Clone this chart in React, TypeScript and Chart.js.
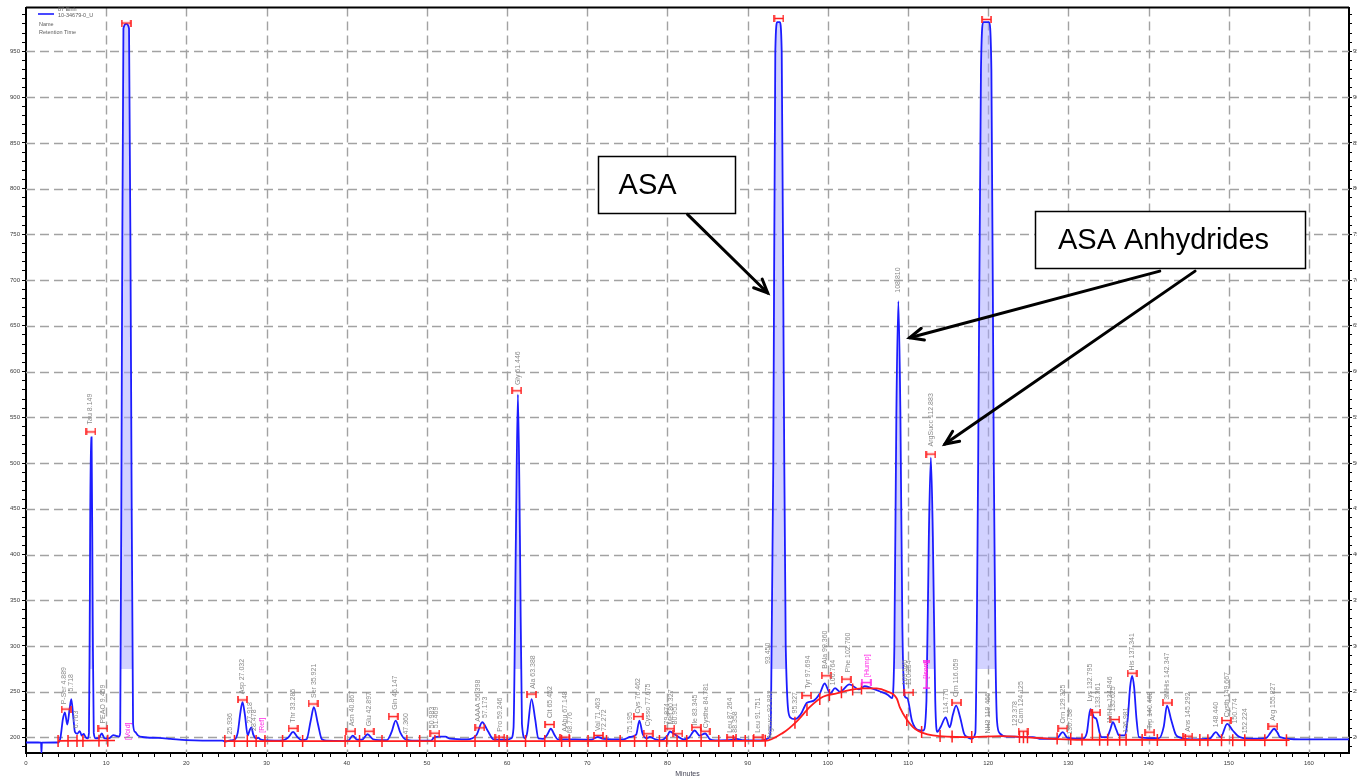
import React, { useEffect, useRef } from "react";
import { Chart, registerables } from "chart.js";

Chart.register(...registerables);

// ---- Chromatogram trace (time in minutes, detector signal) ----
const TRACE_TIME = [
  0, 1.5, 1.88, 1.93, 1.98, 4.0, 4.3, 4.6, 4.85, 5.15, 5.45, 5.65, 5.9, 6.1, 6.4, 6.7, 6.95, 7.2, 7.45, 7.7,
  7.85, 7.95, 8.08, 8.18, 8.32, 8.45, 8.7, 9.1, 9.45, 9.8, 10.3, 10.9, 11.3, 11.6, 11.75, 11.95, 12.15, 12.5, 12.85, 13.1,
  13.35, 13.6, 14.0, 14.5, 16.5, 18.0, 20.0, 22.0, 24.5, 24.9, 25.5, 26.0, 26.4, 26.75, 27.0, 27.3, 27.65, 27.9, 28.1, 28.35,
  28.7, 29.0, 29.3, 31.0, 32.0, 32.7, 33.3, 33.9, 34.4, 35.0, 35.5, 35.9, 36.4, 36.9, 37.5, 39.5, 40.2, 40.75, 41.3, 41.9,
  42.6, 43.3, 45.0, 45.6, 46.1, 46.7, 47.3, 48.5, 50.5, 50.9, 51.5, 52.3, 52.9, 55.0, 56.2, 56.9, 57.6, 58.3, 60.0, 60.5,
  60.8, 61.1, 61.35, 61.6, 61.85, 62.25, 62.5, 63.05, 63.5, 63.9, 64.5, 65.0, 65.45, 65.9, 66.3, 67.0, 68.5, 70.5, 71.3, 72.0,
  74.5, 75.3, 76.1, 76.5, 76.9, 77.4, 77.8, 78.5, 79.2, 80.0, 80.3, 80.8, 81.3, 82.0, 82.7, 83.4, 84.0, 84.7, 85.3, 86.0,
  88.0, 88.6, 89.5, 91.0, 92.0, 92.7, 92.9, 93.2, 93.45, 93.7, 94.0, 94.25, 94.5, 94.75, 95.3, 95.9, 96.6, 97.4, 98.2, 99.0,
  99.6, 100.3, 100.9, 101.5, 102.7, 103.9, 104.6, 105.4, 106.6, 107.5, 108.0, 108.3, 108.55, 108.8, 109.05, 109.3, 109.6, 109.9, 110.5, 111.3,
  111.9, 112.3, 112.6, 112.85, 113.1, 113.4, 113.65, 114.1, 114.7, 115.2, 115.6, 116.0, 116.5, 117.0, 117.3, 117.9, 118.4, 118.75, 119.1, 119.4,
  120.1, 120.4, 120.7, 120.9, 121.1, 121.45, 122.3, 123.3, 124.4, 125.6, 126.4, 128.5, 129.3, 129.9, 131.8, 132.3, 132.75, 133.2, 133.5, 133.9,
  134.1, 134.8, 135.2, 135.55, 136.0, 136.3, 137.0, 137.4, 137.7, 137.95, 138.2, 138.5, 138.8, 140.5, 141.3, 141.9, 142.3, 142.8, 143.4, 143.8,
  145.3, 147.6, 148.4, 149.0, 149.8, 150.5, 151.4, 153.0, 154.7, 155.2, 155.65, 156.1, 156.4, 158.9, 165.0,
];
const TRACE_SIGNAL = [
  194.5, 194.5, 194.4, 183, 194.4, 194.5, 200, 220, 227.5, 214, 232, 242, 222, 206, 204, 207, 202, 204, 200, 199,
  205, 330, 528, 528, 330, 205, 199, 199.5, 204.5, 199, 199, 202.5, 201.5, 201, 205, 600, 975, 980, 975, 600,
  215, 206, 202, 200.5, 199.5, 198.5, 197, 196.5, 196.5, 195.5, 196.8, 197.5, 205, 228, 238.5, 225, 202, 208, 211, 203,
  199, 199.5, 197.5, 196.5, 196.8, 200, 206, 200, 197, 198, 218, 233, 215, 198, 196.5, 196, 196.5, 202, 197.5, 197.5,
  203.5, 198, 197, 206, 218.5, 205, 198, 196.5, 196.5, 200, 201, 200.8, 198.6, 197.8, 203, 216.6, 207, 198, 197.5, 199,
  210, 420, 575, 420, 215, 199, 205, 242, 220, 199, 198.5, 203, 209.5, 203, 198, 197.8, 197.8, 197.5, 200.5, 198.5,
  197.8, 200.5, 203, 218.5, 204, 199, 200.5, 198, 197, 202, 206.5, 204, 201, 197.8, 200, 207.6, 202, 204.3, 198, 196.7,
  197.2, 198.5, 197, 196.7, 197, 200, 215, 500, 950, 982, 982, 950, 600, 300, 222, 220, 225, 238, 240, 248,
  259, 248, 254, 250, 258, 252.5, 256, 254, 250, 246.5, 243, 300, 555, 677, 555, 320, 245, 243, 218, 208,
  207.6, 240, 420, 506, 420, 240, 206, 212, 222, 211, 225, 234.8, 222, 204, 201, 198.5, 205, 500, 930, 982,
  982, 930, 500, 300, 218, 204.5, 201, 201, 200.3, 200.3, 198.6, 198.6, 205.8, 199.5, 198.6, 205, 231, 222, 220, 205,
  200.3, 200.3, 208, 216.6, 208, 202.2, 202.2, 220, 255, 267.4, 255, 220, 200.3, 199.2, 199.2, 212, 234.8, 220, 203, 200.3,
  197.8, 198.6, 205.8, 200.3, 214.9, 207.6, 200.3, 198.6, 199.6, 205, 209.5, 205, 200.3, 197.8, 197.8,
];

// ---- Integration baseline (red), null = gap ----
const BASE_TIME = [4.0, 11.1, 11.2, 24.8, 60.0, 92.2, 94.4, 96.1, 97.8, 99.4, 101.1, 102.7, 104.3, 106.1, 107.3, 108.6, 109.0, 109.8, 110.9, 113.1, 117.3, 121.5, 126.0, 131.0, 157.6];
const BASE_SIGNAL = [196.2, 196.8, null, 196.0, 196.0, 196.3, 205, 217.4, 233.7, 244.5, 248.2, 251.8, 253.6, 253.6, 250.7, 242.6, 232.5, 220.2, 209.2, 202.2, 200.3, 201.5, 199.5, 197.5, 197.0];

// ---- Peak start/end ticks on the baseline ----
const TICK_TIME = [4.0, 5.24, 6.36, 7.1, 9.1, 10.2, 24.8, 26.0, 27.6, 28.7, 29.8, 32.0, 34.5, 39.8, 41.6, 44.4, 47.5, 49.1, 51.0, 56.0, 59.0, 60.0, 62.3, 64.7, 66.8, 67.8, 70.1, 72.4, 74.1, 75.9, 77.4, 79.0, 79.9, 81.2, 82.4, 84.2, 86.4, 88.2, 89.7, 90.7, 92.2, 95.9, 97.4, 99.0, 100.2, 101.7, 103.1, 104.2, 109.85, 111.7, 114.0, 115.5, 117.95, 123.9, 124.4, 124.9, 128.6, 130.3, 131.7, 133.9, 134.9, 136.4, 137.2, 139.2, 141.1, 144.6, 146.4, 147.4, 149.1, 150.5, 152.0, 154.5, 157.2];
const TICK_SIGNAL = [196, 196, 196.2, 196.2, 196.4, 196.5, 196, 196, 196, 196, 196, 196, 196, 196, 196, 196, 196, 196, 196, 196, 196, 196, 196, 196, 196, 196, 196, 196, 196, 196, 196, 196, 196, 196, 196, 196, 196, 196, 196, 196, 196.3, 216, 230, 242, 246.5, 249.5, 252.5, 253.5, 219, 206, 201.7, 201, 200.5, 200.5, 200.3, 200.2, 198.8, 198.2, 197.8, 197.5, 197.5, 197.4, 197.4, 197.3, 197.2, 197.1, 197.1, 197, 197, 197, 197, 197, 197];

// ---- Drop line ----
const DROP_TIME = [133.0, 133.0];
const DROP_SIGNAL = [197.6, 231];

// ---- Peak apex markers (red) ----
const MARK_TIME = [5.0, 8.1, 9.6, 12.5, 27.0, 33.3, 35.8, 40.5, 42.8, 45.8, 51.0, 56.6, 59.1, 61.2, 63.05, 65.3, 67.2, 71.4, 76.35, 77.6, 80.3, 81.3, 83.6, 84.7, 88.0, 91.3, 93.9, 97.35, 99.8, 102.3, 110.1, 112.85, 116.05, 119.8, 124.35, 129.3, 133.4, 135.8, 137.95, 140.15, 142.35, 144.9, 149.7, 155.5];
const MARK_SIGNAL = [231, 534, 210, 981, 241, 210, 236.6, 206.8, 206.8, 222.8, 204.7, 210.5, 200.3, 579, 247.5, 214.1, 200.3, 202.2, 222.8, 204, 209.5, 204, 211.2, 206.8, 200.3, 200.3, 986, 245.7, 267.4, 263.8, 249, 509.8, 237.7, 985, 206.8, 210, 227.5, 219.6, 270.3, 205.8, 237.7, 201.4, 218.5, 212.3];

// ---- Magenta markers ----
const MAG_MARK_TIME = [104.8];
const MAG_MARK_SIGNAL = [260];
const MAG_VMARK_TIME = [112.3];
const MAG_VMARK_SIGNAL = [268];

// ---- Peak labels (rotated) ----
const LABEL_TEXT = [
  "P-Ser 4.889", "5.718", "6.763", "Tau 8.149", "PEAO 9.459", "25.936", "Asp 27.032", "27.918", "28.478", "Thr 33.285",
  "Ser 35.921", "Asn 40.867", "Glu 42.897", "Gln 46.147", "47.360", "50.983", "51.469", "AAAA 56.398", "57.173", "Pro 59.246",
  "Gly 61.446", "Ala 63.388", "Cit 65.452", "AAbu 67.148", "68.776", "Val 71.463", "72.272", "75.195", "Cys 76.462", "Cysso 77.675",
  "79.874", "Met 80.327", "80.951", "Ile 83.345", "Cysthe 84.781", "Leu 87.264", "88.358", "Leu 91.751", "93.450", "Argsucc 93.882",
  "95.327", "Tyr 97.694", "BAla 99.360", "100.764", "Phe 102.760", "108.810", "109.586", "110.254", "ArgSucc 112.883", "114.770",
  "Orn 116.059", "NH3 119.466", "123.378", "Carn 124.125", "Orn 129.325", "130.758", "Lys 132.795", "133.361", "1MHis 134.946", "135.625",
  "136.981", "His 137.341", "Trp 140.468", "3MHis 142.347", "Ans 145.292", "148.440", "Cysth 149.667", "150.774", "152.224", "Arg 155.827",
];
const LABEL_TIME = [
  4.75, 5.6, 6.3, 8.05, 9.6, 25.4, 26.97, 27.9, 28.4, 33.3,
  35.9, 40.7, 42.8, 46.0, 47.4, 50.7, 51.2, 56.4, 57.2, 59.1,
  61.4, 63.25, 65.3, 67.2, 67.9, 71.3, 72.1, 75.3, 76.35, 77.6,
  79.9, 80.4, 80.9, 83.4, 84.8, 87.8, 88.4, 91.3, 92.6, 92.85,
  95.9, 97.5, 99.6, 100.7, 102.5, 108.8, 109.6, 110.15, 112.85, 114.7,
  116.05, 120.0, 123.3, 124.15, 129.35, 130.2, 132.75, 133.7, 135.2, 135.6,
  137.15, 137.95, 140.15, 142.35, 144.9, 148.4, 149.85, 150.75, 152.0, 155.5,
];
const LABEL_SIGNAL = [
  234, 248, 208, 540, 213, 201, 245, 213, 205, 214,
  241, 210, 210, 228, 201, 208, 208, 215, 219, 204,
  583, 251, 219, 204, 202, 205, 205, 202, 224, 210,
  212, 212, 212, 211, 208, 203, 203, 203, 278, 196,
  224, 251, 273, 255, 269, 684, 255, 255, 516, 224,
  242, 202, 210, 213, 213, 201, 237, 230, 213, 226,
  203, 271, 207, 239, 204, 209, 220, 213, 202, 216,
];
const MAG_LABEL_TEXT = ["[Void]", "[Ref]", "[Hump]", "[Isom]"];
const MAG_LABEL_TIME = [12.75, 29.4, 104.9, 112.3];
const MAG_LABEL_SIGNAL = [195, 203, 264, 262];

// ---- Annotations (data units) ----
const BOX_TEXT = ["ASA", "ASA Anhydrides"];
const BOX_T0 = [71.3, 125.8];
const BOX_T1 = [88.4, 159.5];
const BOX_V0 = [772.8, 713];
const BOX_V1 = [835.9, 775];
const BOX_TEXT_T = [73.9, 128.7];
const ARROW_FROM_T = [82.5, 141.4, 145.8];
const ARROW_FROM_V = [771.8, 709.8, 709.8];
const ARROW_TO_T = [92.5, 110.2, 114.6];
const ARROW_TO_V = [685.9, 637, 520.7];

const X_MIN = 0, X_MAX = 165, Y_MIN = 183, Y_MAX = 998;
const TINT_LEVEL = 275; // peak interiors above this signal are tinted
const BLUE = "rgb(28,28,255)";
const RED = "rgb(255,30,30)";
const MAGENTA = "rgb(255,40,230)";
const LABEL_FONT = '7px "Liberation Sans", Arial, sans-serif';
const TRACE_INDEX = 6;

function pts(t: number[], v: (number | null)[]) {
  return t.map((x, i) => ({ x, y: v[i] }));
}

function makeH(color: string, w: number, h: number, vertical: boolean) {
  const c = document.createElement("canvas");
  c.width = vertical ? h : w;
  c.height = vertical ? w : h;
  const g = c.getContext("2d")!;
  g.strokeStyle = color;
  g.lineWidth = 1.6;
  g.beginPath();
  if (!vertical) {
    g.moveTo(1, h / 2); g.lineTo(w - 1, h / 2);
    g.moveTo(1, 0); g.lineTo(1, h);
    g.moveTo(w - 1, 0); g.lineTo(w - 1, h);
  } else {
    g.moveTo(h / 2, 1); g.lineTo(h / 2, w - 1);
    g.moveTo(0, 1); g.lineTo(h, 1);
    g.moveTo(0, w - 1); g.lineTo(h, w - 1);
  }
  g.stroke();
  return c;
}

const overlay = {
  id: "overlay",
  beforeDatasetsDraw(chart: any) {
    const { ctx, chartArea: a, scales } = chart;
    const x = scales.x, y = scales.y;
    ctx.save();
    ctx.strokeStyle = "#a2a2a2";
    ctx.lineWidth = 1.4;
    ctx.setLineDash([9, 5]);
    x.ticks.forEach((tk: any) => {
      if (tk.value % 10 === 0 && tk.value > X_MIN) {
        const px = Math.round(x.getPixelForValue(tk.value)) + 0.5;
        ctx.beginPath(); ctx.moveTo(px, a.top); ctx.lineTo(px, a.bottom); ctx.stroke();
      }
    });
    y.ticks.forEach((tk: any) => {
      if (Math.round(tk.value) % 50 === 0) {
        const py = Math.round(y.getPixelForValue(tk.value)) + 0.5;
        ctx.beginPath(); ctx.moveTo(a.left, py); ctx.lineTo(a.right, py); ctx.stroke();
      }
    });
    ctx.restore();

    // pale tint inside the tall peaks
    const meta = chart.getDatasetMeta(TRACE_INDEX);
    const line = meta && meta.dataset;
    if (line && line.points && line.points.length) {
      line.updateControlPoints(a, "x");
      const clipY = Math.round(y.getPixelForValue(TINT_LEVEL));
      const p = line.points;
      ctx.save();
      ctx.beginPath();
      ctx.rect(a.left, a.top, a.right - a.left, clipY - a.top);
      ctx.clip();
      ctx.beginPath();
      line.path(ctx);
      ctx.lineTo(p[p.length - 1].x, a.bottom + 5);
      ctx.lineTo(p[0].x, a.bottom + 5);
      ctx.closePath();
      ctx.fillStyle = "rgba(165,165,255,0.5)";
      ctx.fill();
      ctx.restore();
    }
  },
  afterDatasetsDraw(chart: any) {
    const { ctx, chartArea: a, scales } = chart;
    const x = scales.x, y = scales.y;
    ctx.save();
    ctx.font = LABEL_FONT;
    ctx.textAlign = "left";
    ctx.textBaseline = "middle";
    const drawLabels = (texts: string[], ts: number[], vs: number[], color: string) => {
      ctx.fillStyle = color;
      texts.forEach((s, i) => {
        const px = x.getPixelForValue(ts[i]);
        const py = y.getPixelForValue(vs[i]);
        ctx.save();
        ctx.translate(px, py - 2);
        ctx.rotate(-Math.PI / 2);
        ctx.fillText(s, 0, 0);
        ctx.restore();
      });
    };
    drawLabels(LABEL_TEXT, LABEL_TIME, LABEL_SIGNAL, "#8a8a8a");
    drawLabels(MAG_LABEL_TEXT, MAG_LABEL_TIME, MAG_LABEL_SIGNAL, MAGENTA);

    // annotation boxes
    ctx.strokeStyle = "#000";
    ctx.lineWidth = 1.5;
    ctx.font = '29px "Liberation Sans", Arial, sans-serif';
    ctx.textBaseline = "middle";
    BOX_TEXT.forEach((s, i) => {
      const x0 = Math.round(x.getPixelForValue(BOX_T0[i])) + 0.5;
      const x1 = Math.round(x.getPixelForValue(BOX_T1[i])) + 0.5;
      const y0 = Math.round(y.getPixelForValue(BOX_V1[i])) + 0.5;
      const y1 = Math.round(y.getPixelForValue(BOX_V0[i])) + 0.5;
      ctx.fillStyle = "#fff";
      ctx.fillRect(x0, y0, x1 - x0, y1 - y0);
      ctx.strokeRect(x0, y0, x1 - x0, y1 - y0);
      ctx.fillStyle = "#000";
      ctx.fillText(s, x.getPixelForValue(BOX_TEXT_T[i]), (y0 + y1) / 2 + 1);
    });
    // arrows
    ctx.lineWidth = 3;
    ctx.lineCap = "round";
    ARROW_FROM_T.forEach((t0, i) => {
      const sx = x.getPixelForValue(t0), sy = y.getPixelForValue(ARROW_FROM_V[i]);
      const ex = x.getPixelForValue(ARROW_TO_T[i]), ey = y.getPixelForValue(ARROW_TO_V[i]);
      const ang = Math.atan2(ey - sy, ex - sx);
      ctx.beginPath(); ctx.moveTo(sx, sy); ctx.lineTo(ex, ey); ctx.stroke();
      const L = 15, sp = 0.42;
      ctx.beginPath();
      ctx.moveTo(ex - L * Math.cos(ang - sp), ey - L * Math.sin(ang - sp));
      ctx.lineTo(ex, ey);
      ctx.lineTo(ex - L * Math.cos(ang + sp), ey - L * Math.sin(ang + sp));
      ctx.stroke();
    });

    // top frame line
    ctx.lineCap = "butt";
    ctx.lineWidth = 2;
    ctx.beginPath(); ctx.moveTo(a.left, a.top); ctx.lineTo(a.right, a.top); ctx.stroke();

    // legend
    ctx.strokeStyle = BLUE; ctx.lineWidth = 1.6;
    ctx.beginPath(); ctx.moveTo(a.left + 12, 14); ctx.lineTo(a.left + 28, 14); ctx.stroke();
    ctx.fillStyle = "#5c5c5c";
    ctx.font = '5.5px "Liberation Sans", Arial, sans-serif';
    ctx.textAlign = "left";
    ctx.fillText("87 Einh", a.left + 32, 9);
    ctx.fillText("10-34679-0_U", a.left + 32, 15);
    ctx.fillText("Name", a.left + 13, 24);
    ctx.fillText("Retention Time", a.left + 13, 32);

    // x title (clipped at bottom edge)
    ctx.font = '7px "Liberation Sans", Arial, sans-serif';
    ctx.textAlign = "center";
    ctx.textBaseline = "top";
    ctx.fillStyle = "#445";
    ctx.fillText("Minutes", (a.left + a.right) / 2, 771);
    ctx.restore();
  },
};

export default function App() {
  const ref = useRef<HTMLCanvasElement>(null);
  useEffect(() => {
    const canvas = ref.current!;
    const hRed = makeH(RED, 11, 7, false);
    const hMag = makeH(MAGENTA, 11, 7, false);
    const vMag = makeH(MAGENTA, 28, 7, true);
    const tickFont = { size: 6, family: '"Liberation Sans", Arial, sans-serif' };
    const yAxis = (pos: "left" | "right", w: number) => ({
      type: "linear" as const,
      position: pos,
      min: Y_MIN,
      max: Y_MAX,
      ticks: {
        stepSize: 10,
        autoSkip: false,
        includeBounds: false,
        font: tickFont,
        color: "#3a3a3a",
        padding: pos === "left" ? 2 : 1,
        callback: (v: any) => (Math.round(v) % 50 === 0 ? String(Math.round(v)) : ""),
      },
      grid: { drawOnChartArea: false, tickLength: pos === "left" ? 4 : 3, tickColor: "#000", tickWidth: 1 },
      border: { color: "#000", width: 2 },
      afterFit(s: any) { s.width = w; },
    });
    const chart = new Chart(canvas, {
      type: "line",
      data: {
        datasets: [
          { label: "apex", data: pts(MARK_TIME, MARK_SIGNAL), showLine: false, pointStyle: hRed as any, pointRadius: 5 },
          { label: "hump", data: pts(MAG_MARK_TIME, MAG_MARK_SIGNAL), showLine: false, pointStyle: hMag as any, pointRadius: 5 },
          { label: "isom", data: pts(MAG_VMARK_TIME, MAG_VMARK_SIGNAL), showLine: false, pointStyle: vMag as any, pointRadius: 5 },
          {
            label: "ticks", data: pts(TICK_TIME, TICK_SIGNAL), showLine: false, pointStyle: "line", rotation: 90,
            pointRadius: 6, pointBorderColor: RED, pointBorderWidth: 1.5, borderColor: RED,
          },
          { label: "drop", data: pts(DROP_TIME, DROP_SIGNAL), borderColor: RED, borderWidth: 1.5, pointRadius: 0 },
          {
            label: "baseline", data: pts(BASE_TIME, BASE_SIGNAL), borderColor: RED, borderWidth: 1.8, pointRadius: 0,
            spanGaps: false, cubicInterpolationMode: "monotone",
          },
          {
            label: "87 Einh", data: pts(TRACE_TIME, TRACE_SIGNAL), borderColor: BLUE, borderWidth: 1.8, pointRadius: 0,
            cubicInterpolationMode: "monotone", fill: false,
          },
        ],
      },
      options: {
        animation: false,
        responsive: false,
        layout: { padding: { top: 3, left: 0, right: 0, bottom: 0 } },
        plugins: { legend: { display: false }, tooltip: { enabled: false } },
        scales: {
          x: {
            type: "linear",
            min: X_MIN,
            max: X_MAX,
            ticks: {
              stepSize: 2, autoSkip: false, maxRotation: 0, includeBounds: false, font: tickFont, color: "#3a3a3a", padding: 3,
              callback: (v: any) => (Math.round(v) % 10 === 0 ? String(Math.round(v)) : ""),
            },
            grid: { drawOnChartArea: false, tickLength: 4, tickColor: "#000", tickWidth: 1 },
            border: { color: "#000", width: 2 },
            afterFit(s: any) { s.height = 23; },
          },
          y: yAxis("left", 26),
          y2: yAxis("right", 8),
        },
      } as any,
      plugins: [overlay],
    });
    return () => chart.destroy();
  }, []);
  return (
    <div style={{ position: "fixed", left: 0, top: 0, width: 1357, height: 776, background: "#fff" }}>
      <canvas ref={ref} width={1357} height={776} style={{ display: "block", width: 1357, height: 776 }} />
    </div>
  );
}
